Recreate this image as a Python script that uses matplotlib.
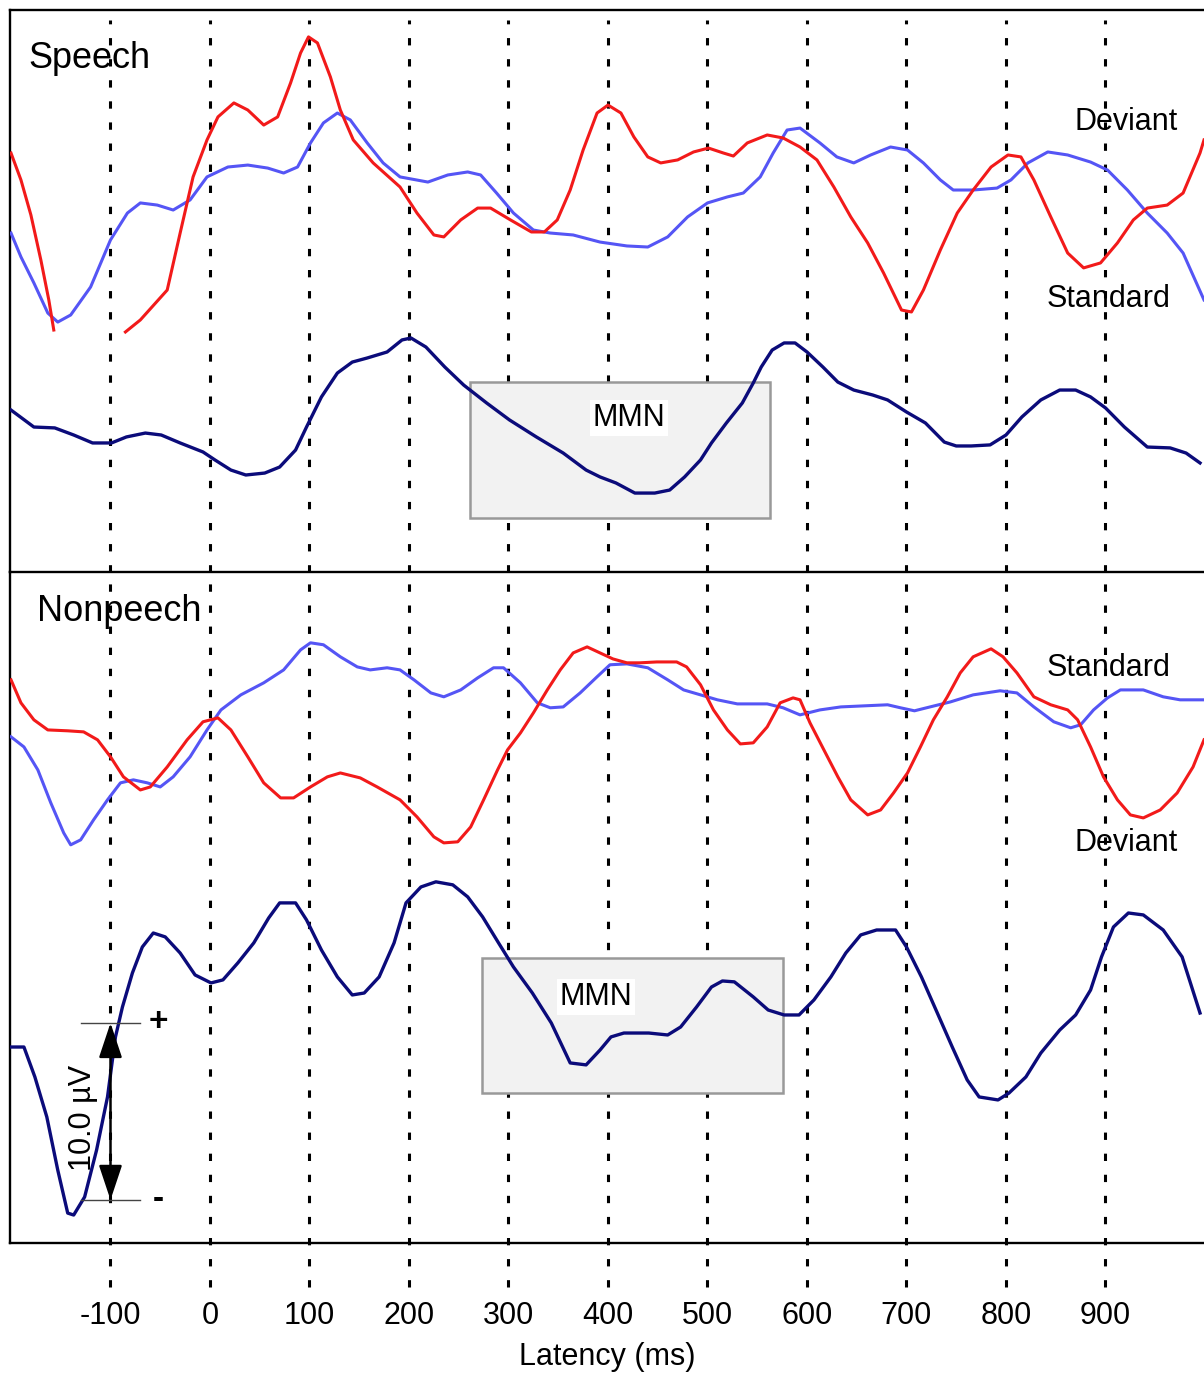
import numpy as np
import matplotlib
matplotlib.use('Agg')
from matplotlib import pyplot as plt
from matplotlib.patches import Rectangle

plt.rcParams['font.family'] = ['Liberation Sans', 'DejaVu Sans']

# ---- speech condition (latency ms, amplitude uV, stacked offsets) ----
sp_dev_t = [-200, -190, -180, -170, -162, -157, -120,
            -85, -70, -43, -30, -17, -3, 8, 24, 38, 54, 68, 81, 91, 99, 108, 121, 131, 144, 164, 191,
            208, 225, 235, 252, 269, 282, 302, 323, 336, 349, 362, 375, 389, 400, 413, 426, 440, 453,
            470, 486, 501, 516, 526, 540, 560, 576, 593, 610, 627, 644, 661, 677, 695, 705, 717, 734,
            751, 767, 785, 802, 815, 828, 845, 862, 878, 895, 912, 928, 942, 962, 978, 995, 999]
sp_dev_v = [23.67, 22.15, 20.17, 17.63, 15.37, 13.67, np.nan,
            13.56, 14.24, 15.93, 19.15, 22.32, 24.41, 25.71, 26.50, 26.10, 25.25, 25.71, 27.63, 29.32,
            30.23, 29.89, 27.97, 26.10, 24.41, 23.11, 21.75, 20.28, 19.04, 18.93, 19.89, 20.56, 20.56,
            19.89, 19.21, 19.21, 19.89, 21.58, 23.84, 25.93, 26.38, 25.93, 24.58, 23.45, 23.11, 23.28,
            23.73, 23.95, 23.67, 23.50, 24.24, 24.69, 24.52, 24.01, 23.28, 21.75, 20.06, 18.59, 16.89,
            14.80, 14.69, 15.93, 18.19, 20.28, 21.58, 22.88, 23.56, 23.45, 22.15, 20.06, 18.02, 17.18,
            17.46, 18.59, 19.89, 20.56, 20.73, 21.41, 23.67, 24.41]

sp_std_t = [-200, -190, -177, -163, -153, -140, -120, -100, -83, -70, -53, -37, -20, -3, 18, 38, 58,
            74, 88, 101, 114, 128, 141, 158, 174, 191, 219, 239, 259, 272, 288, 305, 325, 342, 365,
            392, 419, 440, 460, 480, 500, 520, 536, 553, 566, 580, 593, 613, 630, 647, 664, 684, 701,
            717, 734, 747, 767, 791, 805, 822, 842, 862, 885, 902, 922, 942, 962, 978, 999]
sp_std_v = [19.15, 17.80, 16.33, 14.63, 14.12, 14.52, 16.10, 18.76, 20.28, 20.85, 20.73, 20.45, 21.02,
            22.32, 22.88, 22.99, 22.82, 22.54, 22.88, 24.24, 25.37, 25.93, 25.54, 24.24, 23.11, 22.32,
            22.03, 22.43, 22.60, 22.43, 21.41, 20.28, 19.32, 19.15, 19.04, 18.64, 18.42, 18.36, 18.93,
            20.06, 20.85, 21.19, 21.41, 22.32, 23.67, 24.97, 25.08, 24.24, 23.45, 23.11, 23.56, 24.01,
            23.84, 23.11, 22.15, 21.58, 21.58, 21.69, 22.15, 23.11, 23.73, 23.56, 23.16, 22.71, 21.58,
            20.28, 19.15, 18.02, 15.37]

sp_mmn_t = [-200, -177, -156, -137, -118, -99, -84, -65, -49, -30, -7, 5, 21, 36, 55, 70, 86, 97, 112,
            128, 143, 158, 178, 193, 202, 217, 236, 255, 278, 301, 328, 355, 378, 392, 408, 427, 447,
            462, 477, 493, 504, 519, 535, 546, 554, 565, 577, 588, 600, 616, 631, 647, 666, 681, 700,
            719, 738, 750, 765, 784, 800, 816, 835, 854, 870, 885, 900, 919, 942, 965, 981, 995]
sp_mmn_v = [9.15, 8.19, 8.14, 7.74, 7.29, 7.29, 7.63, 7.85, 7.74, 7.29, 6.78, 6.33, 5.76, 5.48, 5.59,
            5.93, 6.89, 8.19, 9.89, 11.24, 11.86, 12.09, 12.43, 13.11, 13.22, 12.71, 11.58, 10.56, 9.55,
            8.59, 7.63, 6.72, 5.76, 5.37, 5.03, 4.46, 4.46, 4.63, 5.37, 6.33, 7.29, 8.42, 9.55, 10.68,
            11.58, 12.54, 12.94, 12.94, 12.43, 11.58, 10.73, 10.28, 10.00, 9.72, 9.04, 8.42, 7.34, 7.12,
            7.12, 7.18, 7.74, 8.76, 9.72, 10.28, 10.28, 9.89, 9.27, 8.19, 7.06, 7.01, 6.72, 6.16]

# ---- nonspeech condition ----
ns_dev_t = [-200, -190, -177, -163, -143, -127, -113, -100, -87, -70, -60, -43, -23, -7, 8, 21, 38, 54,
            71, 84, 101, 118, 131, 151, 168, 191, 208, 225, 235, 249, 262, 275, 289, 299, 312, 325, 339,
            352, 365, 379, 392, 405, 419, 432, 449, 469, 479, 493, 506, 520, 533, 546, 560, 573, 586,
            593, 603, 617, 631, 644, 661, 674, 687, 701, 714, 727, 741, 754, 767, 785, 797, 811, 828,
            845, 862, 872, 885, 898, 912, 925, 938, 955, 972, 988, 999]
ns_dev_v = [31.81, 30.51, 29.55, 28.98, 28.93, 28.87, 28.42, 27.46, 26.33, 25.59, 25.76, 26.89, 28.42,
            29.44, 29.66, 28.98, 27.46, 25.99, 25.14, 25.14, 25.76, 26.33, 26.55, 26.27, 25.76, 25.03,
            24.07, 22.94, 22.60, 22.66, 23.50, 25.03, 26.72, 27.85, 28.81, 29.94, 31.24, 32.37, 33.33,
            33.67, 33.33, 32.99, 32.77, 32.77, 32.82, 32.82, 32.54, 31.53, 30.11, 28.98, 28.19, 28.25,
            29.15, 30.51, 30.79, 30.68, 29.38, 27.85, 26.33, 25.03, 24.18, 24.46, 25.42, 26.55, 28.02,
            29.55, 30.85, 32.20, 33.11, 33.56, 33.11, 32.20, 30.85, 30.40, 30.11, 29.55, 28.02, 26.33,
            25.03, 24.18, 24.01, 24.46, 25.42, 26.89, 28.42]

ns_std_t = [-200, -187, -173, -160, -147, -140, -130, -117, -103, -90, -77, -63, -50, -37, -20, -3, 11,
            31, 54, 74, 91, 101, 114, 131, 148, 161, 178, 191, 205, 222, 235, 252, 269, 285, 295, 312,
            329, 342, 355, 372, 389, 402, 419, 440, 460, 476, 493, 510, 530, 560, 576, 593, 613, 634,
            681, 694, 708, 728, 744, 767, 794, 811, 828, 848, 865, 875, 888, 902, 915, 938, 958, 975,
            999]
ns_std_v = [28.59, 28.02, 26.72, 24.86, 23.16, 22.49, 22.77, 23.90, 25.03, 25.99, 26.16, 25.99, 25.76,
            26.33, 27.46, 28.98, 30.11, 30.96, 31.64, 32.37, 33.50, 33.90, 33.79, 33.11, 32.54, 32.37,
            32.49, 32.37, 31.81, 31.07, 30.85, 31.24, 31.92, 32.49, 32.49, 31.64, 30.51, 30.23, 30.28,
            31.07, 31.98, 32.66, 32.71, 32.49, 31.81, 31.24, 30.96, 30.68, 30.45, 30.45, 30.23, 29.83,
            30.11, 30.28, 30.40, 30.23, 30.06, 30.34, 30.56, 30.96, 31.19, 31.07, 30.28, 29.44, 29.10,
            29.27, 30.11, 30.79, 31.24, 31.24, 30.85, 30.68, 30.68]

ns_mmn_t = [-200, -187, -176, -164, -153, -143, -137, -126, -114, -103, -95, -88, -78, -68, -57, -45,
            -30, -15, 1, 13, 28, 44, 59, 70, 86, 97, 112, 128, 143, 155, 170, 185, 197, 212, 227, 244,
            259, 274, 290, 305, 324, 343, 362, 378, 392, 403, 416, 441, 460, 473, 489, 504, 515, 527,
            546, 561, 577, 592, 607, 624, 639, 654, 670, 689, 700, 715, 731, 746, 761, 773, 792, 803,
            820, 835, 854, 870, 885, 896, 908, 923, 938, 958, 977, 995]
ns_mmn_v = [11.07, 11.07, 9.38, 7.12, 4.12, 1.69, 1.58, 2.60, 5.25, 8.25, 11.64, 13.33, 15.25, 16.72,
            17.51, 17.29, 16.38, 15.14, 14.69, 14.86, 15.82, 16.95, 18.36, 19.21, 19.21, 18.25, 16.55,
            15.03, 14.01, 14.12, 15.03, 16.95, 19.21, 20.11, 20.40, 20.23, 19.55, 18.42, 16.95, 15.59,
            14.12, 12.43, 10.17, 10.06, 10.90, 11.64, 11.86, 11.86, 11.75, 12.20, 13.33, 14.46, 14.80,
            14.75, 13.90, 13.16, 12.88, 12.88, 13.73, 15.03, 16.38, 17.40, 17.68, 17.68, 16.72, 15.03,
            12.99, 11.07, 9.21, 8.25, 8.08, 8.47, 9.38, 10.73, 12.03, 12.88, 14.29, 16.16, 17.85, 18.64,
            18.53, 17.68, 16.16, 12.99]

latency_ticks = [-100, 0, 100, 200, 300, 400, 500, 600, 700, 800, 900]
mmn_windows = [(261, 563, 3.05, 10.73), (273, 576, 8.47, 16.10)]   # t0, t1, v0, v1

red = '#f21a1a'
blue = '#5555f5'
navy = '#0b0b7a'
lblSize = 22

fig = plt.figure(figsize=(12.04, 13.74), dpi=100)
ax1 = fig.add_axes([10 / 1204, 802 / 1374, 1194 / 1204, 562 / 1374])
ax2 = fig.add_axes([10 / 1204, 131 / 1374, 1194 / 1204, 671 / 1374])
ax1.set_ylim(0, 31.75)
ax2.set_ylim(0, 37.9)

for ax in (ax1, ax2):
    ax.set_xlim(-201, 999)
    ax.set_yticks([])
    ax.patch.set_alpha(0)
    ax.spines['right'].set_visible(False)
    for s in ('left', 'top', 'bottom'):
        ax.spines[s].set_linewidth(1.7)
ax2.spines['top'].set_visible(False)
ax1.set_xticks([])

# dashed latency markers
for t in latency_ticks:
    ax1.axvline(t, ymin=0, ymax=0.982, color='k', lw=2.2, dashes=(2.4, 4.5), zorder=1)
    ax2.axvline(t, ymin=-0.065, ymax=1, color='k', lw=2.2, dashes=(2.4, 4.5), zorder=1, clip_on=False)

# MMN windows
for ax, (t0, t1, v0, v1), (tx, ty) in zip((ax1, ax2), mmn_windows, [(421, 8.7), (388, 13.9)]):
    ax.add_patch(Rectangle((t0, v0), t1 - t0, v1 - v0, facecolor='#f2f2f2', edgecolor='#999999',
                           lw=1.8, zorder=2))
    ax.text(tx, ty, 'MMN', fontsize=lblSize, ha='center', va='center', zorder=3,
            bbox=dict(facecolor='white', edgecolor='none', pad=2))

ax1.plot(sp_std_t, sp_std_v, color=blue, lw=2.2, zorder=4)
ax1.plot(sp_dev_t, sp_dev_v, color=red, lw=2.2, zorder=5)
ax1.plot(sp_mmn_t, sp_mmn_v, color=navy, lw=2.4, zorder=5)
ax2.plot(ns_std_t, ns_std_v, color=blue, lw=2.2, zorder=4)
ax2.plot(ns_dev_t, ns_dev_v, color=red, lw=2.2, zorder=5)
ax2.plot(ns_mmn_t, ns_mmn_v, color=navy, lw=2.4, zorder=5)

ax1.text(0.015, 0.913, 'Speech', transform=ax1.transAxes, fontsize=26, va='center', ha='left')
ax2.text(0.023, 0.941, 'Nonpeech', transform=ax2.transAxes, fontsize=26, va='center', ha='left')
ax1.text(921, 25.4, 'Deviant', fontsize=lblSize, ha='center', va='center')
ax1.text(903, 15.4, 'Standard', fontsize=lblSize, ha='center', va='center')
ax2.text(903, 32.5, 'Standard', fontsize=lblSize, ha='center', va='center')
ax2.text(921, 22.6, 'Deviant', fontsize=lblSize, ha='center', va='center')

# 10 uV calibration bar
ax2.plot([-130, -70], [12.43, 12.43], color='#444444', lw=1.0, zorder=6)
ax2.plot([-130, -70], [2.43, 2.43], color='#444444', lw=1.0, zorder=6)
ax2.annotate('', xy=(-100, 2.43), xytext=(-100, 12.43), zorder=7,
             arrowprops=dict(arrowstyle='<|-|>,head_length=0.72,head_width=0.24', color='k', lw=1.8,
                             mutation_scale=30, shrinkA=0, shrinkB=0))
ax2.text(-52, 12.43, '+', fontsize=24, fontweight='bold', ha='center', va='center')
ax2.text(-52, 2.43, '-', fontsize=24, fontweight='bold', ha='center', va='center')
ax2.text(-128, 7.06, '10.0 \u00b5V', fontsize=lblSize, rotation=90, ha='center', va='center')

ax2.set_xticks(latency_ticks)
ax2.set_xticklabels([str(t) for t in latency_ticks], fontsize=lblSize)
ax2.tick_params(axis='x', length=0, pad=42)
ax2.set_xlabel('Latency (ms)', fontsize=lblSize, labelpad=8)

plt.savefig('out.png', dpi=100)
